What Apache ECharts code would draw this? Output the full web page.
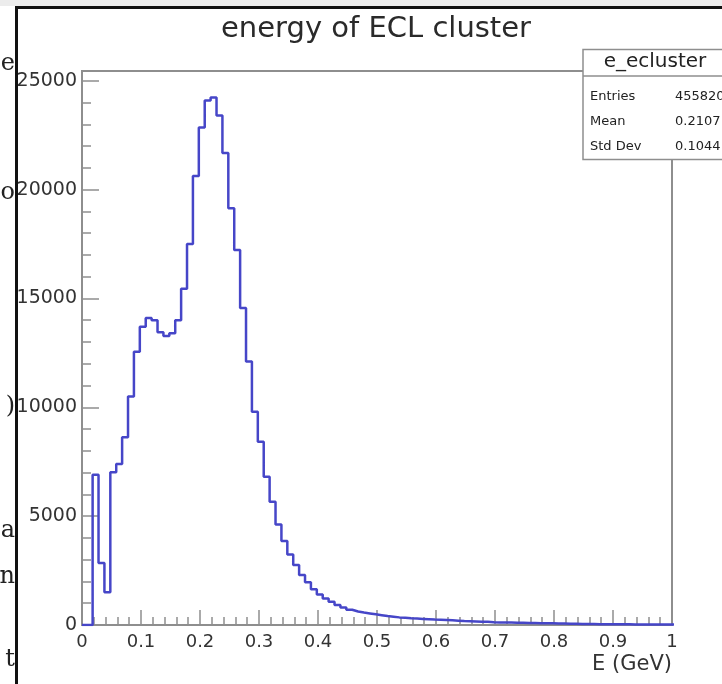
<!DOCTYPE html>
<html>
<head>
<meta charset="utf-8">
<title>energy of ECL cluster</title>
<script src="https://cdn.jsdelivr.net/npm/echarts@6/dist/echarts.min.js"></script>
<style>
    html, body { margin: 0; padding: 0; background: #fff; }
    #chart { width: 722px; height: 684px; }
</style>
</head>
<body>
<div id="chart"></div>
<script>
/* e_ecluster 直方图 */

var binStart = 0.018;   // 第一个非零格的左边界
var binWidth = 0.01;

// 每格计数
var counts = [
    6900, 2850, 1500, 7020, 7400, 8630, 10500, 12550, 13700, 14100,
    14000, 13450, 13280, 13400, 14000, 15450, 17500, 20630, 22850, 24100,
    24230, 23400, 21680, 19150, 17230, 14560, 12100, 9800, 8420, 6810,
    5660, 4620, 3860, 3240, 2760, 2300, 1960, 1640, 1400, 1220,
    1070, 920, 800, 700, 620, 570, 530, 490, 450, 410,
    380, 350, 330, 310, 295, 280, 265, 250, 240, 230,
    215, 200, 185, 175, 165, 155, 145, 130, 120, 115,
    110, 105, 100, 95, 90, 85, 80, 75, 70, 65,
    60, 55, 50, 48, 45, 40, 38, 36, 34, 32,
    30, 28, 27, 26, 25, 24, 23, 22, 21
];

var xTickLabels = ['0', '0.1', '0.2', '0.3', '0.4', '0.5', '0.6', '0.7', '0.8', '0.9', '1'];
var yTickLabels = ['0', '5000', '10000', '15000', '20000', '25000'];

var statNames = ['Entries', 'Mean', 'Std Dev'];
var statValues = ['455820', '0.2107', '0.1044'];

// 左边被遮住的文字碎片
var sideChars = ['e', 'o', ')', 'a', 'n', 't'];
var sideCharY = [64, 193, 407, 531, 577, 660];

var FONT = '"DejaVu Sans", sans-serif';
var GRAY = '#8e8e8e';
var TXT = '#333';

var mychart = echarts.init(document.getElementById('chart'));

// 直方图折线点
var points = [[0, 0]];
for (var i = 0; i < counts.length; i++) {
    points.push([+(binStart + i * binWidth).toFixed(3), counts[i]]);
}
points.push([+(binStart + counts.length * binWidth).toFixed(3), counts[counts.length - 1]]);

var graphics = [
    { type: 'rect', shape: { x: 0, y: 0, width: 722, height: 6 }, style: { fill: '#ececec' }, z: 1 },
    { type: 'line', shape: { x1: 15, y1: 7.5, x2: 722, y2: 7.5 }, style: { stroke: '#111', lineWidth: 3 }, z: 1 },
    { type: 'line', shape: { x1: 16.5, y1: 6, x2: 16.5, y2: 684 }, style: { stroke: '#111', lineWidth: 3 }, z: 1 },
    {
        type: 'text', x: 672, y: 665, z: 10,
        style: { text: 'E (GeV)', fill: TXT, font: '21px ' + FONT, textAlign: 'right', textVerticalAlign: 'middle' }
    },
    // 统计框
    {
        type: 'rect', shape: { x: 583, y: 49.5, width: 160, height: 110 }, z: 50,
        style: { fill: '#fff', stroke: GRAY, lineWidth: 1.5 }
    },
    { type: 'line', shape: { x1: 583, y1: 76, x2: 722, y2: 76 }, style: { stroke: GRAY, lineWidth: 1.5 }, z: 51 },
    {
        type: 'text', x: 655, y: 62, z: 52,
        style: { text: 'e_ecluster', fill: '#222', font: '20px ' + FONT, textAlign: 'center', textVerticalAlign: 'middle' }
    }
];

for (var s = 0; s < statNames.length; s++) {
    graphics.push({
        type: 'text', x: 590, y: 97 + s * 25, z: 52,
        style: { text: statNames[s], fill: '#222', font: '13px ' + FONT, textVerticalAlign: 'middle' }
    });
    graphics.push({
        type: 'text', x: 675, y: 97 + s * 25, z: 52,
        style: { text: statValues[s], fill: '#222', font: '13px ' + FONT, textVerticalAlign: 'middle' }
    });
}

for (var c = 0; c < sideChars.length; c++) {
    graphics.push({
        type: 'text', x: 15, y: sideCharY[c], z: 0,
        style: { text: sideChars[c], fill: '#222', font: '24px "DejaVu Serif", serif', textAlign: 'right', textVerticalAlign: 'middle' }
    });
}

function pick(list) {
    return function (v) {
        var t = String(+v.toFixed(3));
        return list.indexOf(t) >= 0 ? t : '';
    };
}

var option = {
    animation: false,
    title: {
        text: 'energy of ECL cluster',
        left: 221,
        top: 15,
        padding: 0,
        textStyle: { fontFamily: FONT, fontSize: 29, fontWeight: 'normal', color: '#2a2a2a', lineHeight: 29 }
    },
    grid: {
        left: 82, right: 50, top: 71, bottom: 59,
        show: true, borderColor: GRAY, borderWidth: 2, backgroundColor: 'transparent'
    },
    xAxis: {
        type: 'value',
        min: 0,
        max: 1,
        interval: 0.1,
        axisLine: { show: true, lineStyle: { color: GRAY, width: 2 } },
        axisTick: { show: true, inside: true, length: 15, lineStyle: { color: GRAY, width: 1.5 } },
        minorTick: { show: true, splitNumber: 5, length: 8, lineStyle: { color: GRAY, width: 1.5 } },
        splitLine: { show: false },
        axisLabel: { color: TXT, fontFamily: FONT, fontSize: 18, margin: 8, formatter: pick(xTickLabels) }
    },
    yAxis: [{
        type: 'value',
        min: 0,
        max: 25450,
        interval: 5000,
        axisLine: { show: true, lineStyle: { color: GRAY, width: 2 } },
        axisTick: { show: true, inside: true, length: 17, lineStyle: { color: GRAY, width: 1.5 } },
        splitLine: { show: false },
        axisLabel: { color: TXT, fontFamily: FONT, fontSize: 19, margin: 5, formatter: pick(yTickLabels) }
    }, {
        type: 'value',
        position: 'left',
        min: 0,
        max: 25450,
        interval: 1000,
        axisLine: { show: false },
        axisTick: { show: true, inside: true, length: 9, lineStyle: { color: GRAY, width: 1.5 } },
        splitLine: { show: false },
        axisLabel: { show: false }
    }],
    series: [{
        name: 'e_ecluster',
        type: 'line',
        step: 'end',
        symbol: 'none',
        clip: true,
        data: points,
        lineStyle: { color: '#4646c8', width: 2.5 }
    }],
    graphic: graphics
};

mychart.setOption(option);
</script>
</body>
</html>
